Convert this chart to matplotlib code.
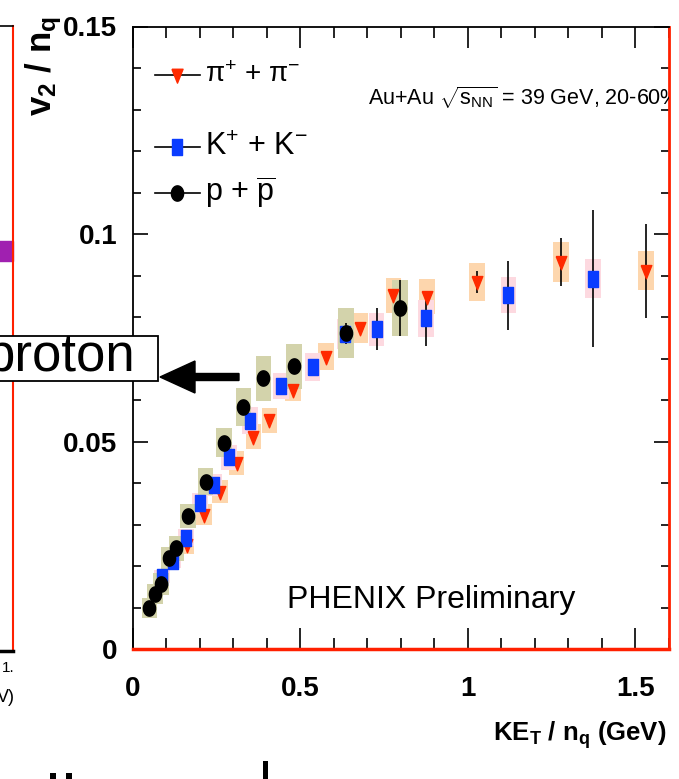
import numpy as np
import matplotlib
matplotlib.use('Agg')
import matplotlib.pyplot as plt
from matplotlib.patches import FancyArrow, Rectangle

SANS = ['Liberation Sans', 'DejaVu Sans']
plt.rcParams['font.family'] = SANS
plt.rcParams['mathtext.fontset'] = 'custom'
plt.rcParams['mathtext.rm'] = 'Liberation Sans'
plt.rcParams['mathtext.it'] = 'Liberation Sans:italic'
plt.rcParams['mathtext.bf'] = 'Liberation Sans:bold'
plt.rcParams['mathtext.default'] = 'regular'

# pi+ + pi-
pi_x = [0.161, 0.213, 0.261, 0.310, 0.360, 0.408, 0.478, 0.577, 0.679, 0.778, 0.878, 1.027, 1.278, 1.532]
pi_y = [0.0251, 0.0324, 0.0380, 0.0448, 0.0512, 0.0552, 0.0624, 0.0705, 0.0773, 0.0853, 0.0849, 0.0885, 0.0933, 0.0912]
pi_stat = [0.0006, 0.0007, 0.0007, 0.0008, 0.0008, 0.0008, 0.0009, 0.0010, 0.0011, 0.0013, 0.0012, 0.0026, 0.0057, 0.0113]
pi_sys = [0.0022, 0.0025, 0.0027, 0.0029, 0.0030, 0.0030, 0.0027, 0.0033, 0.0036, 0.0042, 0.0042, 0.0045, 0.0049, 0.0047]

# K+ + K-
k_x = [0.088, 0.121, 0.159, 0.201, 0.244, 0.287, 0.350, 0.443, 0.537, 0.633, 0.728, 0.875, 1.121, 1.373]
k_y = [0.0175, 0.0213, 0.0269, 0.0352, 0.0396, 0.0462, 0.0551, 0.0634, 0.0679, 0.0759, 0.0771, 0.0797, 0.0853, 0.0892]
k_stat = [0.0004, 0.0004, 0.0005, 0.0005, 0.0006, 0.0006, 0.0007, 0.0008, 0.0015, 0.0020, 0.0050, 0.0066, 0.0083, 0.0165]
k_sys = [0.0016, 0.0018, 0.0020, 0.0024, 0.0026, 0.0030, 0.0032, 0.0032, 0.0034, 0.0036, 0.0040, 0.0044, 0.0043, 0.0047]

# p + pbar
p_x = [0.050, 0.067, 0.085, 0.108, 0.130, 0.165, 0.218, 0.273, 0.330, 0.390, 0.481, 0.636, 0.798]
p_y = [0.0100, 0.0133, 0.0157, 0.0219, 0.0243, 0.0321, 0.0404, 0.0498, 0.0584, 0.0653, 0.0682, 0.0761, 0.0822]
p_stat = [0.0003, 0.0003, 0.0003, 0.0004, 0.0004, 0.0005, 0.0006, 0.0007, 0.0008, 0.0010, 0.0012, 0.0025, 0.0068]
p_sys = [0.0024, 0.0025, 0.0026, 0.0028, 0.0030, 0.0028, 0.0033, 0.0036, 0.0046, 0.0054, 0.0054, 0.0060, 0.0068]

box_w = 0.046

xticks = [0, 0.5, 1, 1.5]
xtick_labels = ['0', '0.5', '1', '1.5']
yticks = [0, 0.05, 0.1, 0.15]
ytick_labels = ['0', '0.05', '0.1', '0.15']

# fragment of the neighbouring panel on the left
left_x = [0.955]
left_y = [0.64]

W, H = 679, 779
fig = plt.figure(figsize=(W / 100, H / 100), dpi=100)


def fx(px):
    return px / W


def fy(py):
    return 1 - py / H


# left panel piece
axl = fig.add_axes([fx(-200), fy(651), fx(213), fy(26) - fy(651)])
axl.set_xlim(0, 1)
axl.set_ylim(0, 1)
axl.set_xticks([])
axl.set_yticks([])
axl.spines['left'].set_visible(False)
axl.spines['top'].set_linewidth(1.2)
axl.spines['right'].set_color('#ff2000')
axl.spines['right'].set_linewidth(1.5)
axl.spines['bottom'].set_linewidth(2.5)
axl.plot(left_x, left_y, marker='s', ms=15, color='#a020b0', ls='none', clip_on=False)

# main panel
ax = fig.add_axes([fx(132.7), fy(649.3), fx(669) - fx(132.7), fy(26.5) - fy(649.3)])
ax.set_xlim(0, 1.6)
ax.set_ylim(0, 0.15)

tri = [(-0.4, 0.45), (0.4, 0.45), (0, -0.55), (-0.4, 0.45)]
rect = [(-0.33, -0.5), (0.33, -0.5), (0.33, 0.5), (-0.33, 0.5), (-0.33, -0.5)]
t = np.linspace(0, 2 * np.pi, 40)
ell = list(zip(0.4 * np.cos(t), 0.5 * np.sin(t)))

series = [
    (pi_x, pi_y, pi_stat, pi_sys, '#fdd6ad', '#ff2a00', tri, 10.5),
    (k_x, k_y, k_stat, k_sys, '#fdd9e0', '#0a3cff', rect, 11),
    (p_x, p_y, p_stat, p_sys, '#d3d3ab', 'black', ell, 11),
]

for x, y, st, sy, bc, mc, mk, ms in series:
    x = np.array(x)
    y = np.array(y)
    sy = np.array(sy)
    ax.bar(x, 2 * sy, bottom=y - sy, width=box_w, color=bc, edgecolor='none', zorder=1)

for x, y, st, sy, bc, mc, mk, ms in series:
    ax.errorbar(x, y, yerr=st, fmt='none', ecolor='black', elinewidth=1.2, zorder=3)
    ax.plot(x, y, ls='none', marker=mk, ms=ms, mfc=mc, mec=mc, zorder=4)

ax.set_xticks(xticks)
ax.set_xticklabels(xtick_labels)
ax.set_yticks(yticks)
ax.set_yticklabels(ytick_labels)
ax.set_xticks(np.arange(0, 1.61, 0.1), minor=True)
ax.set_yticks(np.arange(0, 0.151, 0.01), minor=True)
ax.tick_params(axis='both', which='both', direction='in', top=True, right=True, width=1.2)
ax.tick_params(axis='x', which='major', length=15, pad=19)
ax.tick_params(axis='x', which='minor', length=8)
ax.tick_params(axis='y', which='major', length=11, pad=11)
ax.tick_params(axis='y', which='minor', length=5.5)
for lbl in ax.get_xticklabels() + ax.get_yticklabels():
    lbl.set_fontweight('bold')
    lbl.set_fontsize(20)

for s in ['left', 'top']:
    ax.spines[s].set_linewidth(1.3)
ax.spines['bottom'].set_color('#ff2000')
ax.spines['bottom'].set_linewidth(2.5)
ax.spines['right'].set_color('#ff2000')
ax.spines['right'].set_linewidth(2)

# legend drawn by hand
leg_rows = [
    (0.922, tri, '#ff2a00', r'$\pi^{+}$ + $\pi^{-}$', 20),
    (0.807, rect, '#0a3cff', r'K$^{+}$ + K$^{-}$', 22),
    (0.733, ell, 'black', r'p + $\overline{\mathregular{p}}$', 22),
]
for yy, mk, mc, txt, fs in leg_rows:
    ax.plot([0.042, 0.125], [yy, yy], color='black', lw=1.2, transform=ax.transAxes, zorder=5)
    ax.plot([0.083], [yy], marker=mk, ms=11, mfc=mc, mec=mc, transform=ax.transAxes, zorder=6)
    ax.text(0.135, yy, txt, transform=ax.transAxes, fontsize=fs, va='center', ha='left')

ax.text(0.439, 0.885, r'Au+Au $\sqrt{s_{NN}}$ = 39 GeV, 20-60%', transform=ax.transAxes,
        fontsize=15.5, ha='left', va='center', clip_on=True)
ax.text(0.556, 0.079, 'PHENIX Preliminary', transform=ax.transAxes, fontsize=23,
        ha='center', va='center')

fig.text(fx(44), fy(16), r'v$_{2}$ / n$_{q}$', rotation=90, ha='center', va='top',
         fontsize=25, fontweight='bold')
fig.text(fx(666), fy(735), r'KE$_{T}$ / n$_{q}$ (GeV)', ha='right', va='center',
         fontsize=18.5, fontweight='bold')

# "proton" call-out box and arrow
fig.patches.append(Rectangle((fx(-20), fy(381)), fx(178), fy(336) - fy(381), transform=fig.transFigure,
                             facecolor='white', edgecolor='black', lw=1.3, zorder=10))
fig.text(fx(135), fy(357), 'proton', ha='right', va='center', fontsize=38, zorder=11)
fig.patches.append(FancyArrow(fx(239), fy(377), fx(160) - fx(239), 0, width=7 / H,
                              head_width=32 / H, head_length=35 / W, length_includes_head=True,
                              transform=fig.transFigure, color='black', zorder=10))

# bits of the left panel labels and slide text
fig.text(fx(8), fy(668), '1.', fontsize=11, ha='center', va='center')
fig.text(fx(6), fy(697), 'V)', fontsize=13, ha='center', va='center')
for xx in [50, 66]:
    fig.patches.append(Rectangle((fx(xx), 0), fx(6), 6 / H, transform=fig.transFigure,
                                 facecolor='black', edgecolor='none'))
fig.patches.append(Rectangle((fx(263), 0), fx(5), 18 / H, transform=fig.transFigure,
                             facecolor='black', edgecolor='none'))

fig.savefig('out.png', dpi=100)
